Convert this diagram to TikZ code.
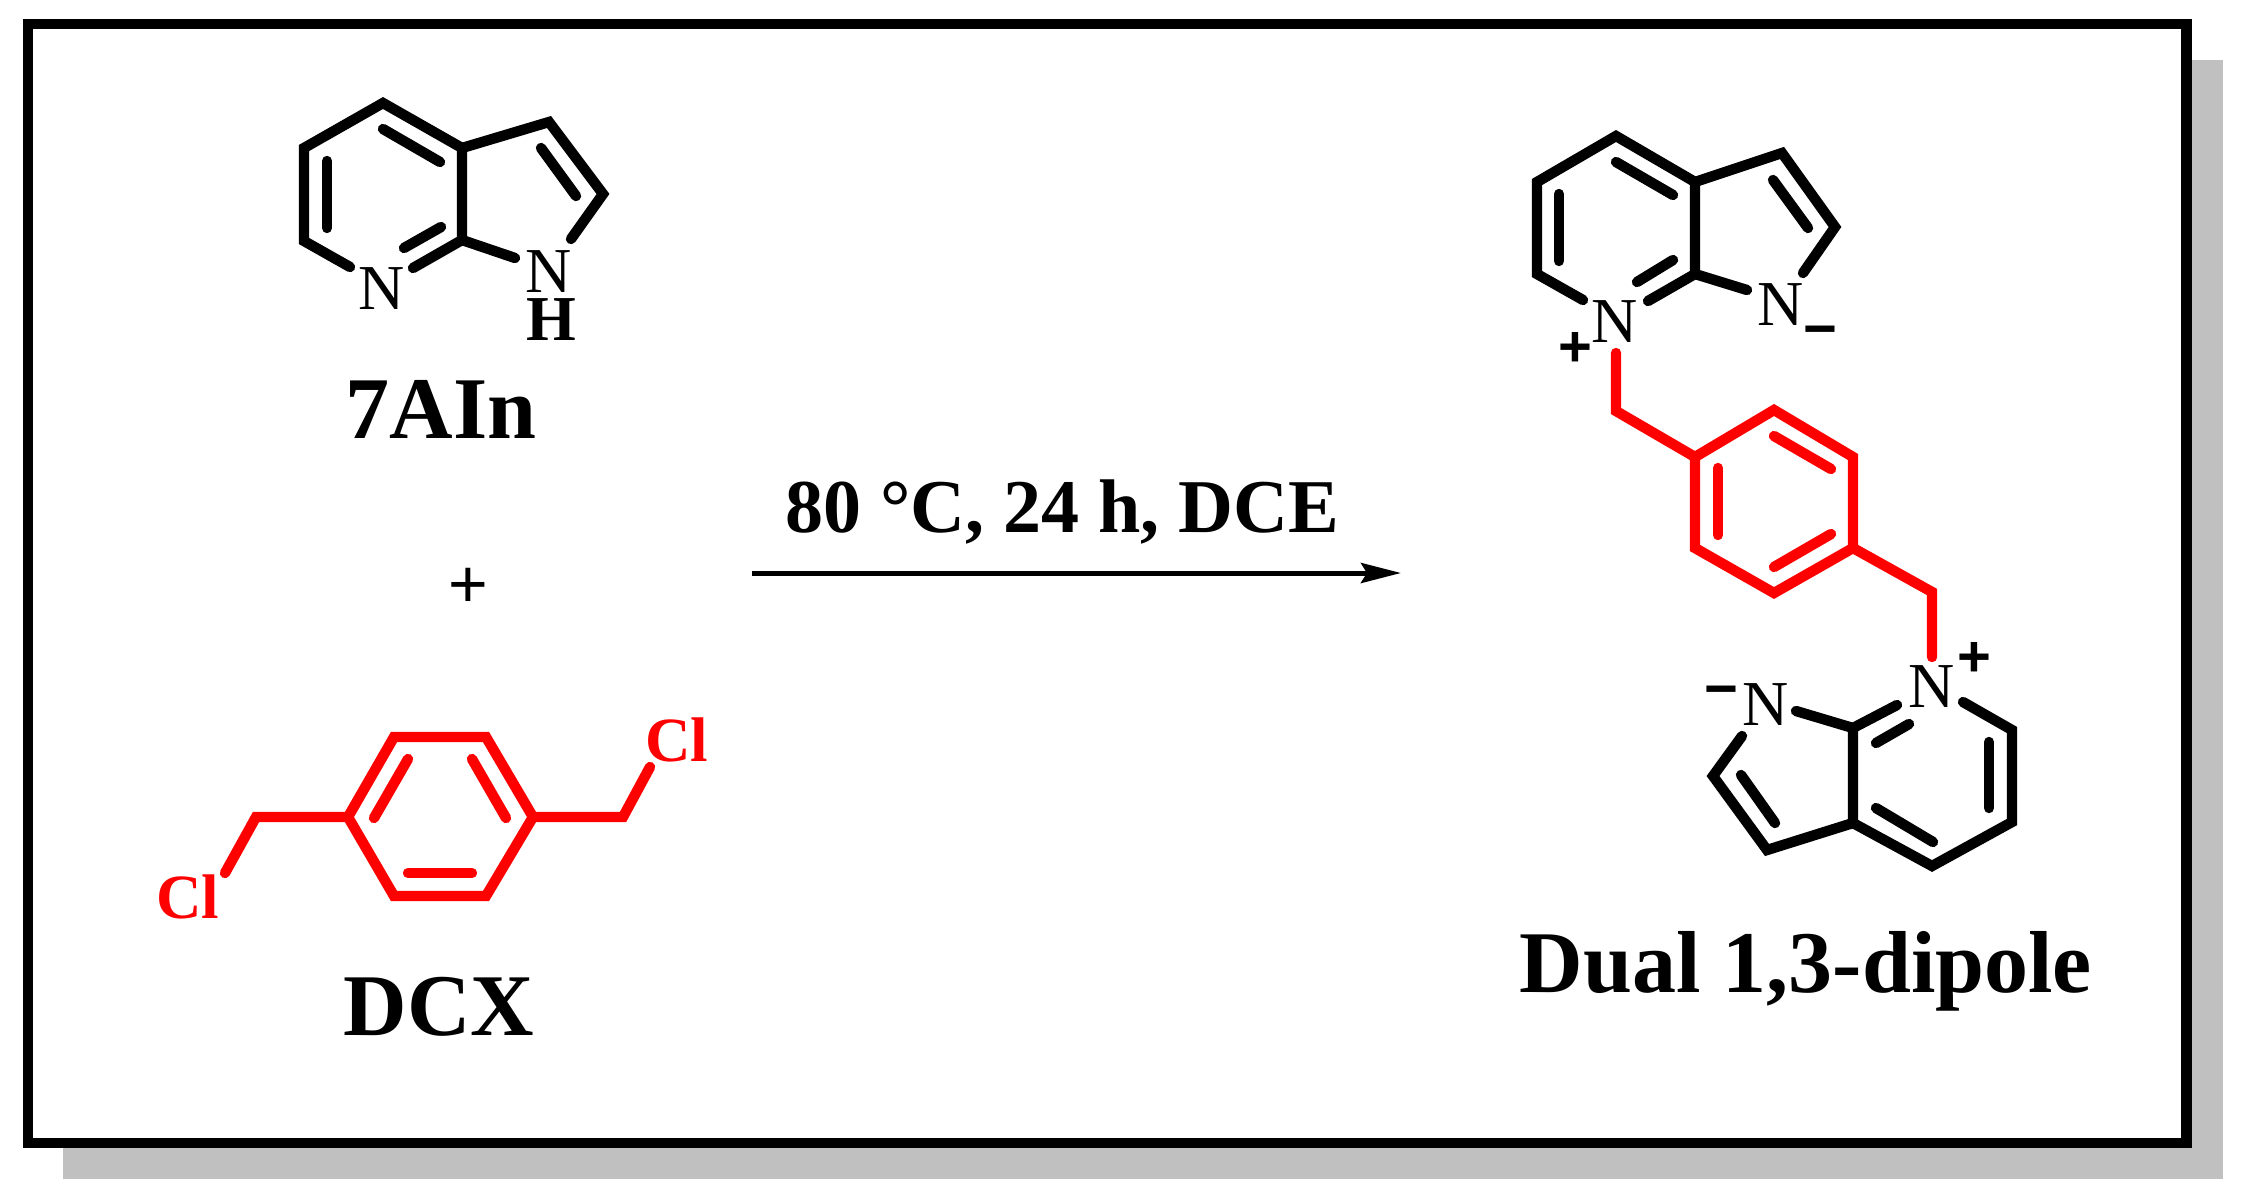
\documentclass[tikz,border=0pt]{standalone}
\usepackage{fontspec}
\setmainfont{Liberation Serif}
\newfontfamily\chargefont{Liberation Sans}
\usetikzlibrary{arrows.meta}
\definecolor{shadowgray}{RGB}{192,192,192}
\definecolor{chemred}{RGB}{255,0,0}
\tikzset{
  x=0.5pt,y=-0.5pt,
  bond/.style={line width=5.2pt,line cap=round,line join=miter,miter limit=3},
  redbond/.style={bond,draw=chemred},
  atomlabel/.style={anchor=base,inner sep=0pt,outer sep=0pt,font=\fontsize{32}{32}\selectfont},
  hlabel/.style={anchor=base,inner sep=0pt,outer sep=0pt,font=\bfseries\fontsize{32}{32}\selectfont},
  clabel/.style={anchor=base,inner sep=0pt,outer sep=0pt,text=chemred,font=\bfseries\fontsize{31.5}{31.5}\selectfont},
  charge/.style={anchor=base,inner sep=0pt,outer sep=0pt,font=\chargefont\bfseries\fontsize{29}{29}\selectfont},
  pluslabel/.style={anchor=base,inner sep=0pt,outer sep=0pt,font=\chargefont\fontsize{34}{34}\selectfont},
  title/.style={anchor=base,inner sep=0pt,outer sep=0pt,font=\bfseries\fontsize{44}{44}\selectfont},
  cond/.style={anchor=base,inner sep=0pt,outer sep=0pt,font=\bfseries\fontsize{38}{38}\selectfont},
  frameline/.style={line width=5.25pt,line join=miter},
}
\begin{document}
\begin{tikzpicture}
\useasboundingbox (0,0) rectangle (2242,1200);
% shadow and frame
\fill[shadowgray] (63,60) rectangle (2223,1179);
\draw[frameline,fill=white] (28,24) rectangle (2186.5,1143);

% ---------- 7AIn ----------
\coordinate (a1) at (350,267);
\coordinate (a2) at (304,241);
\coordinate (a3) at (304,148);
\coordinate (a4) at (383,103);
\coordinate (a5) at (462,148);
\coordinate (a6) at (462,240);
\coordinate (a7) at (413,268);
\coordinate (a8) at (515,258);
\coordinate (a9) at (549,122);
\coordinate (a10) at (603,194);
\coordinate (a11) at (571,239);
\draw[bond] (a1)--(a2)--(a3)--(a4)--(a5)--(a6)--(a7);
\draw[bond] (a5)--(a9)--(a10)--(a11);
\draw[bond] (a6)--(a8);
\coordinate (ai1) at (383,129); \coordinate (ai2) at (440,162);
\coordinate (ai3) at (327,161); \coordinate (ai4) at (327,228);
\coordinate (ai5) at (404,248); \coordinate (ai6) at (441,227);
\coordinate (ai7) at (541,148); \coordinate (ai8) at (576,196);
\draw[bond] (ai1)--(ai2);
\draw[bond] (ai3)--(ai4);
\draw[bond] (ai5)--(ai6);
\draw[bond] (ai7)--(ai8);
\node[atomlabel] (n1) at (382,309) {N};
\node[atomlabel] (n2) at (549,292) {N};
\node[hlabel] (h1) at (551,340) {H};
\node[title] (t1) at (441,438) {7AIn};

% ---------- plus ----------
\node[pluslabel] (plus) at (468,607) {+};

% ---------- DCX ----------
\coordinate (d1) at (225,873);
\coordinate (d2) at (256,817);
\coordinate (d3) at (348,817);
\coordinate (d4) at (394,737);
\coordinate (d5) at (486,737);
\coordinate (d6) at (533,817);
\coordinate (d7) at (486,896);
\coordinate (d8) at (394,896);
\coordinate (d9) at (623,817);
\coordinate (d10) at (650,767);
\draw[redbond] (d1)--(d2)--(d3);
\draw[redbond] (d3)--(d4)--(d5)--(d6)--(d7)--(d8)--cycle;
\draw[redbond] (d6)--(d9)--(d10);
\coordinate (di1) at (408,759); \coordinate (di2) at (374,818);
\coordinate (di3) at (472,759); \coordinate (di4) at (506,818);
\coordinate (di5) at (408,873); \coordinate (di6) at (472,873);
\draw[redbond] (di1)--(di2);
\draw[redbond] (di3)--(di4);
\draw[redbond] (di5)--(di6);
\node[clabel] (cl1) at (188,918) {Cl};
\node[clabel] (cl2) at (677,761) {Cl};
\node[title] (t2) at (439,1035) {DCX};

% ---------- arrow ----------
\coordinate (r1) at (752,573);
\coordinate (r2) at (1401,573);
\draw[line width=2.5pt,-{Stealth[length=20pt,width=10pt,inset=3pt]}] (r1)--(r2);
\node[cond] (c1) at (1062,532) {80 °C, 24 h, DCE};

% ---------- product, top indole ----------
\coordinate (p1) at (1583,300);
\coordinate (p2) at (1537,274);
\coordinate (p3) at (1537,182);
\coordinate (p4) at (1616,136);
\coordinate (p5) at (1695,182);
\coordinate (p6) at (1695,274);
\coordinate (p7) at (1648,301);
\coordinate (p8) at (1747,290);
\coordinate (p9) at (1782,153);
\coordinate (p10) at (1835,227);
\coordinate (p11) at (1803,273);
\draw[bond] (p1)--(p2)--(p3)--(p4)--(p5)--(p6)--(p7);
\draw[bond] (p5)--(p9)--(p10)--(p11);
\draw[bond] (p6)--(p8);
\coordinate (pi1) at (1616,162); \coordinate (pi2) at (1673,195);
\coordinate (pi3) at (1559,194); \coordinate (pi4) at (1559,261);
\coordinate (pi5) at (1637,282); \coordinate (pi6) at (1673,260);
\coordinate (pi7) at (1773,180); \coordinate (pi8) at (1808,228);
\draw[bond] (pi1)--(pi2);
\draw[bond] (pi3)--(pi4);
\draw[bond] (pi5)--(pi6);
\draw[bond] (pi7)--(pi8);
\node[atomlabel] (n3) at (1615,342) {N};
\node[atomlabel] (n4) at (1781,325) {N};
\node[charge] (q1) at (1575,366) {+};
\node[charge] (q2) at (1820,348) {−};

% ---------- product, red linker ----------
\coordinate (l1) at (1616,353);
\coordinate (l2) at (1616,411);
\coordinate (l3) at (1695,457);
\coordinate (l4) at (1774,410);
\coordinate (l5) at (1853,457);
\coordinate (l6) at (1853,548);
\coordinate (l7) at (1774,593);
\coordinate (l8) at (1695,548);
\coordinate (l9) at (1932,592);
\coordinate (l10) at (1932,657);
\draw[redbond] (l1)--(l2)--(l3);
\draw[redbond] (l3)--(l4)--(l5)--(l6)--(l7)--(l8)--cycle;
\draw[redbond] (l6)--(l9)--(l10);
\coordinate (li1) at (1774,436); \coordinate (li2) at (1831,469);
\coordinate (li3) at (1718,468); \coordinate (li4) at (1718,535);
\coordinate (li5) at (1774,567); \coordinate (li6) at (1831,534);
\draw[redbond] (li1)--(li2);
\draw[redbond] (li3)--(li4);
\draw[redbond] (li5)--(li6);

% ---------- product, bottom indole ----------
\coordinate (b1) at (1963,702);
\coordinate (b2) at (2012,730);
\coordinate (b3) at (2012,822);
\coordinate (b4) at (1932,866);
\coordinate (b5) at (1853,823);
\coordinate (b6) at (1853,728);
\coordinate (b7) at (1897,705);
\coordinate (b8) at (1796,711);
\coordinate (b9) at (1767,850);
\coordinate (b10) at (1713,776);
\coordinate (b11) at (1742,736);
\draw[bond] (b1)--(b2)--(b3)--(b4)--(b5)--(b6)--(b7);
\draw[bond] (b5)--(b9)--(b10)--(b11);
\draw[bond] (b6)--(b8);
\coordinate (bi1) at (1876,808); \coordinate (bi2) at (1933,842);
\coordinate (bi3) at (1989,742); \coordinate (bi4) at (1989,808);
\coordinate (bi5) at (1876,743); \coordinate (bi6) at (1909,724);
\coordinate (bi7) at (1741,775); \coordinate (bi8) at (1775,823);
\draw[bond] (bi1)--(bi2);
\draw[bond] (bi3)--(bi4);
\draw[bond] (bi5)--(bi6);
\draw[bond] (bi7)--(bi8);
\node[atomlabel] (n5) at (1932,707) {N};
\node[atomlabel] (n6) at (1766,725) {N};
\node[charge] (q3) at (1974,676) {+};
\node[charge] (q4) at (1721,708) {−};
\node[title] (t3) at (1806,992) {Dual 1,3-dipole};
\end{tikzpicture}
\end{document}
